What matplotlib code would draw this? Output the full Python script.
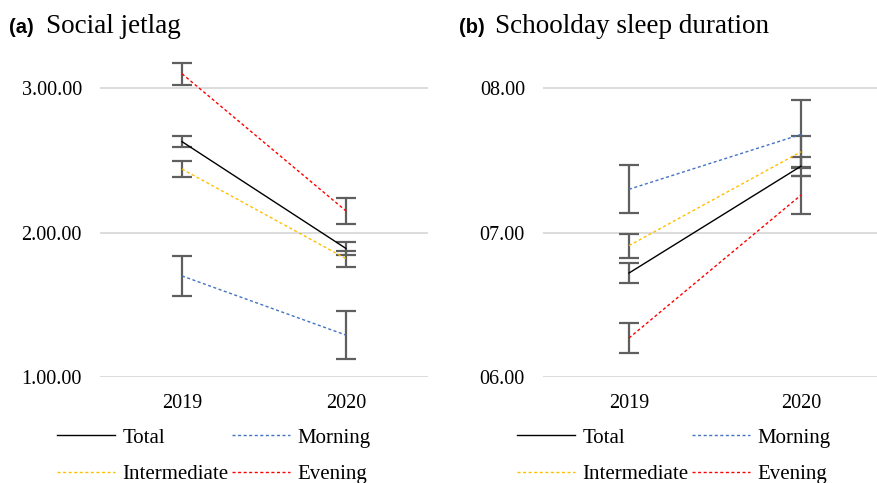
import matplotlib.pyplot as plt

years = ["2019", "2020"]
groups = ["Total", "Morning", "Intermediate", "Evening"]

# social jetlag, hours
jetlag = {
    "Total": [2.63, 1.89],
    "Morning": [1.70, 1.29],
    "Intermediate": [2.44, 1.82],
    "Evening": [3.10, 2.15],
}
jetlag_err = {
    "Total": [0.038, 0.048],
    "Morning": [0.14, 0.165],
    "Intermediate": [0.056, 0.055],
    "Evening": [0.078, 0.09],
}
jetlag_ticks = [1, 2, 3]
jetlag_ticklabels = ["1.00.00", "2.00.00", "3.00.00"]

# schoolday sleep duration, hours
sleep = {
    "Total": [6.72, 7.46],
    "Morning": [7.30, 7.68],
    "Intermediate": [6.91, 7.56],
    "Evening": [6.27, 7.26],
}
sleep_err = {
    "Total": [0.067, 0.067],
    "Morning": [0.166, 0.235],
    "Intermediate": [0.083, 0.107],
    "Evening": [0.107, 0.132],
}
sleep_ticks = [6, 7, 8]
sleep_ticklabels = ["06.00", "07.00", "08.00"]

colors = {"Total": "black", "Morning": "#4472C4",
          "Intermediate": "#FFC000", "Evening": "#FF0000"}

SERIF = "Liberation Serif"
W, H = 878, 483


def draw_panel(ax, data, errs, ticks, ticklabels, ylim):
    x = list(range(len(years)))
    for g in groups:
        ax.errorbar(x, data[g], yerr=errs[g], fmt="none", ecolor="#5f5f5f",
                    elinewidth=1.6, capsize=7, capthick=1.6, zorder=3)
    lines = {}
    for g in groups:
        ls = "-" if g == "Total" else (0, (2.2, 1.8))
        lines[g], = ax.plot(x, data[g], color=colors[g], lw=1.0, ls=ls,
                            label=g, zorder=4)
    ax.set_xlim(-0.5, 1.5)
    ax.set_ylim(*ylim)
    ax.set_yticks(ticks)
    ax.set_yticklabels(ticklabels, fontfamily=SERIF, fontsize=14.5)
    ax.set_xticks(x)
    ax.set_xticklabels(years, fontfamily=SERIF, fontsize=14.5)
    ax.yaxis.grid(True, color="#d9d9d9", lw=1.3)
    ax.set_axisbelow(True)
    for s in ax.spines.values():
        s.set_visible(False)
    ax.tick_params(axis="y", length=0, pad=13)
    ax.tick_params(axis="x", length=0, pad=12)
    return lines


fig = plt.figure(figsize=(W / 100, H / 100), dpi=100)
ax1 = fig.add_axes([100 / W, 1 - 377 / H, 328 / W, 322 / H])
ax2 = fig.add_axes([543 / W, 1 - 377 / H, 344 / W, 322 / H])

lines1 = draw_panel(ax1, jetlag, jetlag_err, jetlag_ticks, jetlag_ticklabels, (1, 3.23))
lines2 = draw_panel(ax2, sleep, sleep_err, sleep_ticks, sleep_ticklabels, (6, 8.23))

# panel titles
for xa, xt, letter, title in [(9, 46, "(a)", "Social jetlag"),
                              (459, 495, "(b)", "Schoolday sleep duration")]:
    fig.text(xa / W, 1 - 33 / H, letter, fontfamily="Liberation Sans",
             fontweight="bold", fontsize=14.5, va="baseline")
    fig.text(xt / W, 1 - 33 / H, title, fontfamily=SERIF, fontsize=19.5,
             va="baseline")

# legends, filled row by row like the original
order = ["Total", "Intermediate", "Morning", "Evening"]
for ax, lines, x0 in [(ax1, lines1, 57), (ax2, lines2, 517)]:
    ax.legend([lines[g] for g in order], order,
              loc="upper left", bbox_to_anchor=(x0 / W, 1 - 428 / H),
              bbox_transform=fig.transFigure, ncol=2, frameon=False,
              borderpad=0, borderaxespad=0, handlelength=2.8,
              handletextpad=0.35, columnspacing=0.15, labelspacing=0.8,
              prop={"family": SERIF, "size": 15})

fig.savefig("out.png", dpi=100)
